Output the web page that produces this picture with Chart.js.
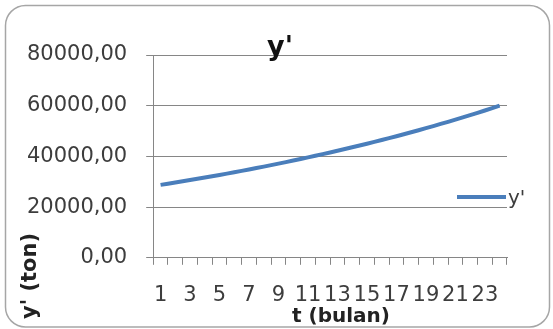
<!DOCTYPE html>
<html>
<head>
<meta charset="utf-8">
<script src="https://cdn.jsdelivr.net/npm/chart.js@4.4.1/dist/chart.umd.min.js"></script>
<style>
  html, body { margin: 0; padding: 0; background: #fff; }
  #wrap { width: 553px; height: 329px; position: relative; }
</style>
</head>
<body>
<div id="wrap"><canvas id="lineChart"></canvas></div>
<script>
// data
const months = ["1", "2", "3", "4", "5", "6", "7", "8", "9", "10", "11", "12",
  "13", "14", "15", "16", "17", "18", "19", "20", "21", "22", "23", "24"];
const yValues = [28770, 29700, 30670, 31670, 32690, 33750, 34850, 35980,
  37150, 38360, 39600, 40890, 42220, 43590, 45000, 46460, 47970, 49530,
  51140, 52800, 54510, 56280, 58110, 60000];
const yTicks = [0, 20000, 40000, 60000, 80000];

const chartTitle = "y'";
const seriesLabel = "y'";
const xTitle = "t (bulan)";
const yTitle = "y' (ton)";

const textColor = "#3d3d3d";
const gridColor = "#868686";
const lineColor = "#4a7ebb";
const fontFamily = "'DejaVu Sans', Verdana, sans-serif";

Chart.defaults.font.family = fontFamily;
Chart.defaults.color = textColor;

// rounded frame, titles and legend (Excel puts them off-centre)
const excelBits = {
  id: "excelBits",
  beforeDraw(chart) {
    const ctx = chart.ctx;
    const x0 = 5.5, y0 = 5.5, x1 = 549.5, y1 = 327, r = 20;
    ctx.save();
    ctx.beginPath();
    ctx.moveTo(x0 + r, y0);
    ctx.arcTo(x1, y0, x1, y1, r);
    ctx.arcTo(x1, y1, x0, y1, r);
    ctx.arcTo(x0, y1, x0, y0, r);
    ctx.arcTo(x0, y0, x1, y0, r);
    ctx.closePath();
    ctx.strokeStyle = "#a6a6a6";
    ctx.lineWidth = 1.5;
    ctx.stroke();
    ctx.restore();
  },
  afterDraw(chart) {
    const ctx = chart.ctx;
    const ds = chart.data.datasets[0];
    ctx.save();
    ctx.textAlign = "center";
    ctx.textBaseline = "middle";
    // chart title
    ctx.fillStyle = "#111";
    ctx.font = "bold 27px " + fontFamily;
    ctx.fillText(chartTitle, 280, 48);
    // x title
    ctx.fillStyle = "#222";
    ctx.font = "bold 20px " + fontFamily;
    ctx.fillText(xTitle, 341, 317);
    // legend
    ctx.strokeStyle = ds.borderColor;
    ctx.lineWidth = ds.borderWidth;
    ctx.beginPath();
    ctx.moveTo(457, 197);
    ctx.lineTo(506, 197);
    ctx.stroke();
    ctx.fillStyle = textColor;
    ctx.font = "20px " + fontFamily;
    ctx.textAlign = "left";
    ctx.fillText(ds.label, 508, 199);
    // y title
    ctx.fillStyle = "#222";
    ctx.translate(31, 276);
    ctx.rotate(-Math.PI / 2);
    ctx.font = "bold 21px " + fontFamily;
    ctx.textAlign = "center";
    ctx.fillText(yTitle, 0, 0);
    ctx.restore();
  }
};

window.chart = new Chart(document.getElementById("lineChart"), {
  type: "line",
  data: {
    labels: months,
    datasets: [
      {
        label: seriesLabel,
        data: yValues,
        borderColor: lineColor,
        backgroundColor: lineColor,
        borderWidth: 4,
        pointRadius: 0,
        tension: 0.4,
        fill: false,
      },
    ],
  },
  options: {
    responsive: true,
    maintainAspectRatio: false,
    animation: false,
    layout: { padding: { left: 8, right: 46, top: 55, bottom: 3 } },
    plugins: {
      legend: { display: false },
      tooltip: { enabled: false },
      title: { display: false },
    },
    scales: {
      x: {
        offset: true,
        grid: { offset: true, drawOnChartArea: false, tickLength: 7, color: gridColor },
        border: { color: gridColor },
        ticks: {
          autoSkip: false,
          maxRotation: 0,
          padding: 18,
          font: { size: 21 },
          callback: function (v, i) {
            return i % 2 === 0 ? this.getLabelForValue(v) : "";
          },
        },
      },
      y: {
        min: yTicks[0],
        max: yTicks[yTicks.length - 1],
        ticks: {
          stepSize: yTicks[1] - yTicks[0],
          padding: 19,
          font: { size: 21 },
          callback: (v) => v.toFixed(2).replace(".", ","),
        },
        grid: { color: gridColor, tickLength: 7 },
        border: { color: gridColor },
      },
    },
  },
  plugins: [excelBits],
});
</script>
</body>
</html>
